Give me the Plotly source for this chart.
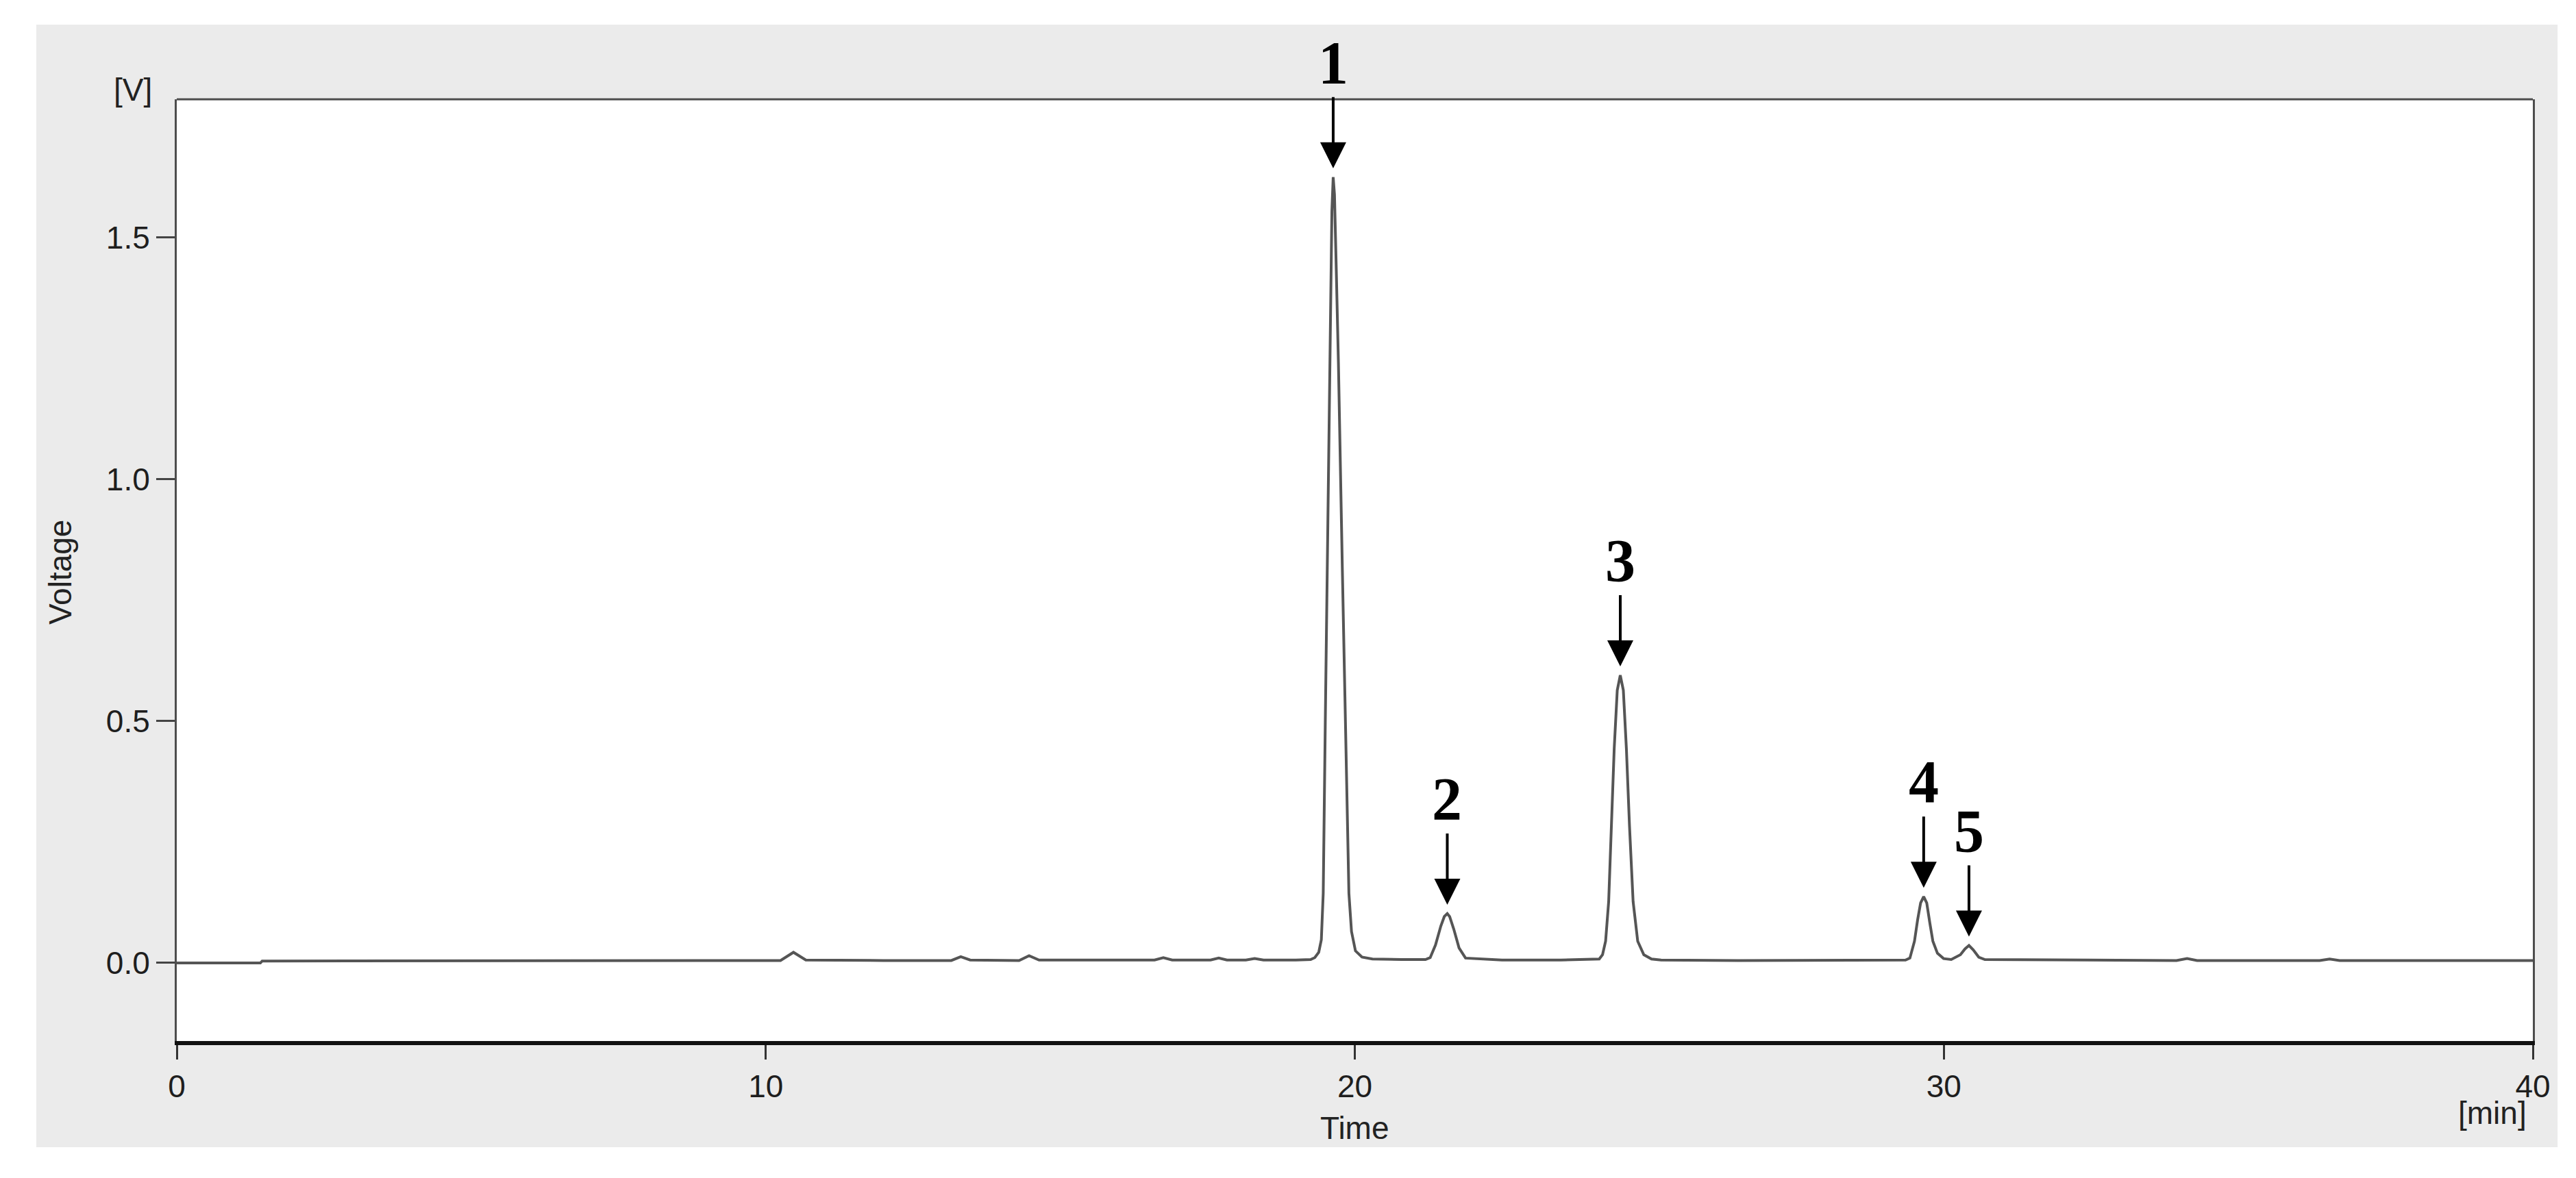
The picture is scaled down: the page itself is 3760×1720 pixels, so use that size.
import plotly.graph_objects as go

# chromatogram (time in min, signal in V)
LEAD_T = [0.0, 1.42, 1.45, 5.0, 8.0, 10.25, 10.47, 10.68, 12.0, 13.15, 13.31, 13.47,
          14.3, 14.47, 14.64, 16.6, 16.75, 16.9, 17.55, 17.69, 17.83, 18.15, 18.3, 18.45,
          19.0, 19.25]
LEAD_V = [0.0, 0.0, 0.004, 0.004, 0.005, 0.005, 0.022, 0.006, 0.005, 0.005, 0.013, 0.006,
          0.005, 0.015, 0.006, 0.006, 0.011, 0.006, 0.006, 0.010, 0.006, 0.006, 0.009, 0.006,
          0.006, 0.007]

PEAK1_T = [19.321, 19.388, 19.432, 19.464, 19.499, 19.544, 19.580, 19.611, 19.633, 19.655,
           19.686, 19.722, 19.789, 19.855, 19.900, 19.944, 20.011, 20.122, 20.300]
PEAK1_V = [0.011, 0.022, 0.048, 0.144, 0.498, 0.944, 1.300, 1.555, 1.625, 1.589,
           1.431, 1.240, 0.812, 0.384, 0.144, 0.065, 0.025, 0.012, 0.008]

GAP12_T = [20.8, 21.2]
GAP12_V = [0.007, 0.007]

PEAK2_T = [21.28, 21.37, 21.46, 21.52, 21.57, 21.61, 21.68, 21.77, 21.88]
PEAK2_V = [0.011, 0.037, 0.076, 0.096, 0.102, 0.096, 0.070, 0.031, 0.010]

GAP23_T = [22.5, 23.5]
GAP23_V = [0.006, 0.006]

PEAK3_T = [24.15, 24.206, 24.258, 24.310, 24.362, 24.404, 24.456, 24.507, 24.559, 24.611,
           24.663, 24.725, 24.803, 24.907, 25.037, 25.2]
PEAK3_V = [0.008, 0.017, 0.045, 0.127, 0.285, 0.443, 0.564, 0.595, 0.564, 0.443,
           0.285, 0.127, 0.045, 0.017, 0.008, 0.006]

GAP34_T = [26.5, 28.0]
GAP34_V = [0.005, 0.005]

PEAK45_T = [29.35, 29.424, 29.502, 29.555, 29.606, 29.658, 29.710, 29.762, 29.814, 29.892,
            29.996, 30.126, 30.282, 30.360, 30.427, 30.499, 30.593, 30.697]
PEAK45_V = [0.006, 0.010, 0.045, 0.089, 0.124, 0.137, 0.124, 0.083, 0.045, 0.020,
            0.009, 0.007, 0.017, 0.029, 0.036, 0.027, 0.012, 0.007]

TAIL_T = [32.0, 33.95, 34.13, 34.3, 36.38, 36.55, 36.72, 38.0, 40.0]
TAIL_V = [0.006, 0.005, 0.009, 0.005, 0.005, 0.008, 0.005, 0.005, 0.005]

PEAK_LABELS = ["1", "2", "3", "4", "5"]
PEAK_TIMES = [19.633, 21.57, 24.507, 29.658, 30.427]
PEAK_HEIGHTS = [1.625, 0.102, 0.595, 0.137, 0.036]

X_TICKS = [0, 10, 20, 30, 40]
Y_TICKS = [0.0, 0.5, 1.0, 1.5]

time_min = LEAD_T + PEAK1_T + GAP12_T + PEAK2_T + GAP23_T + PEAK3_T + GAP34_T + PEAK45_T + TAIL_T
voltage_v = LEAD_V + PEAK1_V + GAP12_V + PEAK2_V + GAP23_V + PEAK3_V + GAP34_V + PEAK45_V + TAIL_V

SANS = "Liberation Sans, Arial, sans-serif"
SERIF = "Liberation Serif, Times New Roman, serif"

fig = go.Figure()
fig.add_trace(
    go.Scatter(
        x=time_min,
        y=voltage_v,
        mode="lines",
        line=dict(color="#555555", width=4),
        hoverinfo="x+y",
    )
)

annotations = []
for label, t, h in zip(PEAK_LABELS, PEAK_TIMES, PEAK_HEIGHTS):
    annotations.append(
        dict(
            x=t, y=h, xref="x", yref="y",
            text=f"<b>{label}</b>",
            showarrow=True, arrowhead=2, arrowsize=1.9, arrowwidth=4, arrowcolor="black",
            ax=0, ay=-117, standoff=13, yanchor="bottom",
            font=dict(family=SERIF, size=88, color="black"),
        )
    )

# axis captions placed like the instrument software does
annotations += [
    dict(text="Voltage", xref="paper", yref="paper", x=-0.0494, y=0.4975,
         textangle=-90, showarrow=False, xanchor="center", yanchor="middle",
         font=dict(family=SANS, size=46, color="#222")),
    dict(text="Time", xref="paper", yref="paper", x=0.5, y=-0.0924,
         showarrow=False, xanchor="center", yanchor="middle",
         font=dict(family=SANS, size=46, color="#222")),
    dict(text="[V]", xref="paper", yref="paper", x=-0.0100, y=1.0105,
         showarrow=False, xanchor="right", yanchor="middle",
         font=dict(family=SANS, size=46, color="#222")),
    dict(text="[min]", xref="paper", yref="paper", x=0.9980, y=-0.0765,
         showarrow=False, xanchor="right", yanchor="middle",
         font=dict(family=SANS, size=46, color="#222")),
]

shapes = [
    # grey window panel behind the plot
    dict(type="rect", xref="paper", yref="paper", x0=-0.0596, x1=1.0105, y0=-0.1127, y1=1.0793,
         fillcolor="#EBEBEB", line=dict(width=0), layer="below"),
    dict(type="rect", xref="paper", yref="paper", x0=0, x1=1, y0=0, y1=1,
         fillcolor="white", line=dict(width=0), layer="below"),
    # top frame line
    dict(type="line", xref="paper", yref="paper", x0=0, x1=1, y0=1, y1=1,
         line=dict(color="#4d4d4d", width=3)),
]

fig.update_layout(
    width=3760,
    height=1720,
    autosize=False,
    margin=dict(l=250, r=71, t=137, b=208, pad=0),
    paper_bgcolor="white",
    plot_bgcolor="white",
    showlegend=False,
    font=dict(family=SANS, size=46, color="#1e1e1e"),
    xaxis=dict(
        range=[0, 40], tickvals=X_TICKS, ticks="outside", ticklen=21, tickwidth=3,
        tickcolor="#333", showline=True, linewidth=6, linecolor="#111",
        showgrid=False, zeroline=False,
    ),
    yaxis=dict(
        range=[-0.1615, 1.786], tickvals=Y_TICKS, tickformat=".1f", ticks="outside",
        ticklen=27, tickwidth=3, tickcolor="#444", showline=True, linewidth=3,
        linecolor="#4d4d4d", mirror=True, showgrid=False, zeroline=False,
    ),
    annotations=annotations,
    shapes=shapes,
)

fig.write_html("out.html")
